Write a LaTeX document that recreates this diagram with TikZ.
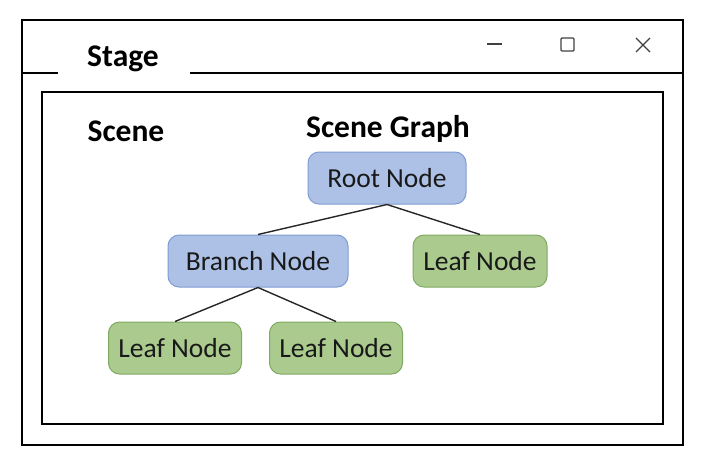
\documentclass[tikz,border=0pt]{standalone}
\usepackage{fontspec}
\setmainfont{Carlito}
\definecolor{bfill}{RGB}{172,193,229}
\definecolor{bdraw}{RGB}{126,156,210}
\definecolor{gfill}{RGB}{170,202,142}
\definecolor{gdraw}{RGB}{128,170,98}
\definecolor{txt}{RGB}{25,25,25}
\begin{document}
\begin{tikzpicture}[x=1pt,y=-1pt,
  frame/.style={line width=2.8pt, black},
  tnode/.style={rounded corners=11pt, line width=1pt, minimum height=52pt, inner sep=0pt, font=\fontsize{27.5}{30}\selectfont, text=txt},
  bluebox/.style={tnode, fill=bfill, draw=bdraw},
  greenbox/.style={tnode, fill=gfill, draw=gdraw},
  link/.style={line width=1.4pt, black!85},
  title/.style={font=\bfseries\fontsize{31.5}{34}\selectfont, inner sep=0pt},
  ctrl/.style={line width=1.3pt, black!75}
]
\useasboundingbox (0,0) rectangle (711,458);
% outer window
\draw[frame] (22,20) rectangle (683,445);
\draw[frame] (22,73) -- (58,73);
\draw[frame] (190,73) -- (683,73);
\node[title] (stage) at (123,59) {Stage};
% window controls
\draw[ctrl] (487,44) -- (502,44);
\draw[ctrl, rounded corners=1pt] (561,38) rectangle (574,51);
\draw[ctrl] (636,38) -- (650,52);
\draw[ctrl] (650,38) -- (636,52);
% inner frame
\draw[frame] (42,92) rectangle (663,424);
\node[title] (scene) at (126,131) {Scene};
\node[title] (sg) at (388,129) {Scene Graph};
% tree
\node[bluebox, minimum width=158pt] (root) at (387,178) {Root Node};
\node[bluebox, minimum width=180pt] (branch) at (258,261) {Branch Node};
\node[greenbox, minimum width=134pt] (leafr) at (480,261) {Leaf Node};
\node[greenbox, minimum width=133pt] (leafa) at (175,348) {Leaf Node};
\node[greenbox, minimum width=133pt] (leafb) at (336,348) {Leaf Node};
\draw[link] (root.south) -- (branch.north);
\draw[link] (root.south) -- (leafr.north);
\draw[link] (branch.south) -- (leafa.north);
\draw[link] (branch.south) -- (leafb.north);
\end{tikzpicture}
\end{document}
